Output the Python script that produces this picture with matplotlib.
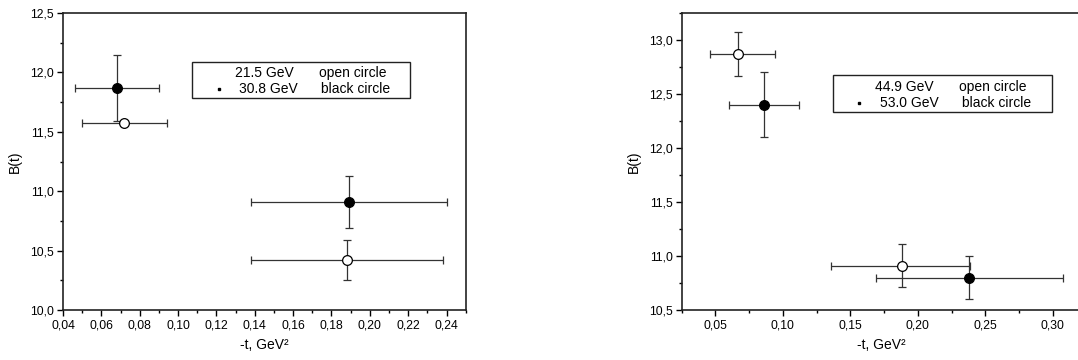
import matplotlib
matplotlib.use("Agg")
import matplotlib.pyplot as plt
from matplotlib.ticker import MultipleLocator, FuncFormatter
from matplotlib.patches import Rectangle

plt.rcParams['font.family'] = ['Liberation Sans', 'DejaVu Sans']

# panneau gauche : 21.5 GeV (cercle ouvert) et 30.8 GeV (cercle noir)
g_open_t = [0.072, 0.188]
g_open_b = [11.57, 10.42]
g_open_tlo = [0.050, 0.138]
g_open_thi = [0.094, 0.238]
g_open_blo = [11.57, 10.25]
g_open_bhi = [11.57, 10.59]

g_black_t = [0.068, 0.189]
g_black_b = [11.87, 10.91]
g_black_tlo = [0.046, 0.138]
g_black_thi = [0.090, 0.240]
g_black_blo = [11.59, 10.69]
g_black_bhi = [12.15, 11.13]

# panneau droit : 44.9 GeV (cercle ouvert) et 53.0 GeV (cercle noir)
d_open_t = [0.067, 0.188]
d_open_b = [12.87, 10.91]
d_open_tlo = [0.046, 0.136]
d_open_thi = [0.094, 0.239]
d_open_blo = [12.67, 10.71]
d_open_bhi = [13.07, 11.11]

d_black_t = [0.086, 0.238]
d_black_b = [12.40, 10.80]
d_black_tlo = [0.060, 0.169]
d_black_thi = [0.112, 0.308]
d_black_blo = [12.10, 10.60]
d_black_bhi = [12.70, 11.00]

legende_gauche = [("21.5 GeV", "open circle"), ("30.8 GeV", "black circle")]
legende_droite = [("44.9 GeV", "open circle"), ("53.0 GeV", "black circle")]

W, H = 1078, 360
fig = plt.figure(figsize=(W / 100, H / 100), dpi=100)

virgule = FuncFormatter(lambda v, p: f"{v:.2f}".replace('.', ','))
virgule1 = FuncFormatter(lambda v, p: f"{v:.1f}".replace('.', ','))


def trace(ax, t, b, tlo, thi, blo, bhi, plein):
    xerr = [[x - l for x, l in zip(t, tlo)], [h - x for x, h in zip(t, thi)]]
    yerr = [[y - l for y, l in zip(b, blo)], [h - y for y, h in zip(b, bhi)]]
    ax.errorbar(t, b, xerr=xerr, yerr=yerr, fmt='o', ms=7,
                mfc='black' if plein else 'white', mec='black', mew=0.9,
                ecolor='#333333', elinewidth=0.9, capsize=3.2, capthick=0.9, zorder=3)


def habille(ax, xmaj, xmin, ymaj, ymin, fx):
    ax.xaxis.set_major_locator(MultipleLocator(xmaj))
    ax.xaxis.set_minor_locator(MultipleLocator(xmin))
    ax.yaxis.set_major_locator(MultipleLocator(ymaj))
    ax.yaxis.set_minor_locator(MultipleLocator(ymin))
    ax.xaxis.set_major_formatter(fx)
    ax.yaxis.set_major_formatter(virgule1)
    ax.tick_params(which='major', direction='out', length=4, width=1, labelsize=8.8, pad=2.5)
    ax.tick_params(which='minor', direction='out', length=2.5, width=1)
    for s in ax.spines.values():
        s.set_linewidth(1.2)
        s.set_color('#222222')


def legende(x0, y0, x1, y1, lignes, xd, xg, xc, ys):
    fig.add_artist(Rectangle((x0 / W, 1 - y1 / H), (x1 - x0) / W, (y1 - y0) / H,
                             transform=fig.transFigure, fill=False, lw=1, ec='#222222'))
    for i, (gev, nom) in enumerate(lignes):
        y = 1 - ys[i] / H
        fig.text(xg[i] / W, y, gev, fontsize=10, va='center', ha='left')
        fig.text(xc[i] / W, y, nom, fontsize=10, va='center', ha='left')
    fig.lines.append(plt.Line2D([xd / W], [1 - ys[1] / H], marker='s', ms=1.6, color='black',
                                transform=fig.transFigure))


# panneau gauche
ax1 = fig.add_axes([63 / W, 50 / H, 402.7 / W, 297 / H])
trace(ax1, g_open_t, g_open_b, g_open_tlo, g_open_thi, g_open_blo, g_open_bhi, False)
trace(ax1, g_black_t, g_black_b, g_black_tlo, g_black_thi, g_black_blo, g_black_bhi, True)
ax1.set_xlim(0.04, 0.25)
ax1.set_ylim(10.0, 12.5)
habille(ax1, 0.02, 0.01, 0.5, 0.25, virgule)
ax1.set_xlabel('-t, GeV²', fontsize=10, labelpad=5)
ax1.set_ylabel('B(t)', fontsize=10, labelpad=6)
legende(191.7, 61.7, 410.3, 98.3, legende_gauche, 219, [235, 239], [319, 321], [72.7, 89.3])

# panneau droit (coupé au bord droit de l'image)
ax2 = fig.add_axes([681.7 / W, 50 / H, 400 / W, 297 / H])
trace(ax2, d_open_t, d_open_b, d_open_tlo, d_open_thi, d_open_blo, d_open_bhi, False)
trace(ax2, d_black_t, d_black_b, d_black_tlo, d_black_thi, d_black_blo, d_black_bhi, True)
ax2.set_xlim(0.025, 0.3215)
ax2.set_ylim(10.5, 13.25)
habille(ax2, 0.05, 0.025, 0.5, 0.25, virgule)
ax2.spines['right'].set_visible(False)
ax2.set_xlabel('-t, GeV²', fontsize=10, labelpad=5)
ax2.set_ylabel('B(t)', fontsize=10, labelpad=6)
legende(832.7, 75, 1051.7, 112.3, legende_droite, 859, [875, 880], [959.3, 961.7], [86.7, 103.3])

plt.savefig('out.png', dpi=100)
